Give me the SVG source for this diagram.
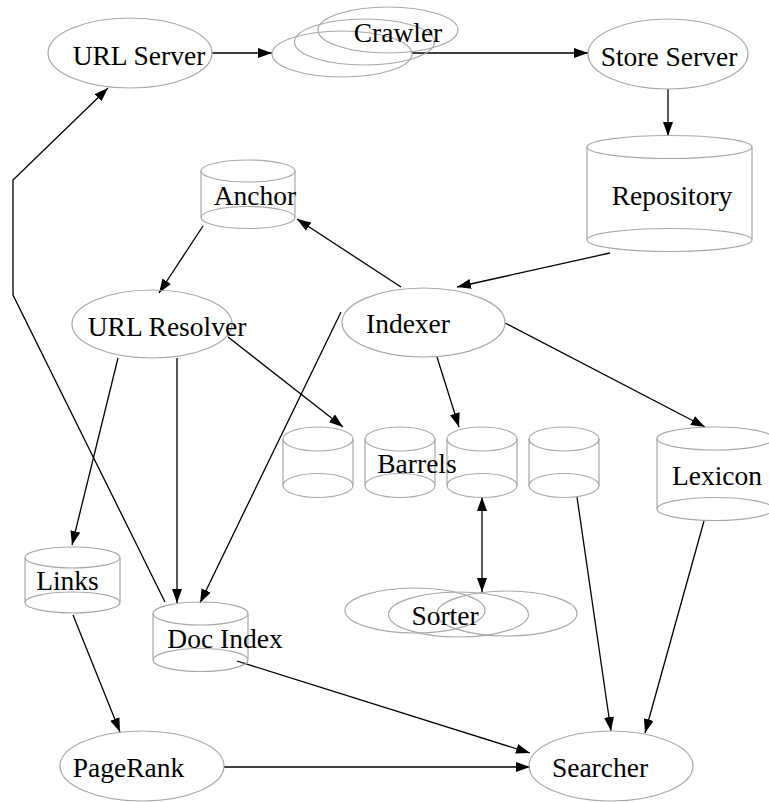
<svg xmlns="http://www.w3.org/2000/svg" width="769" height="802" viewBox="0 0 769 802">
<style>
.n{fill:none;stroke:#a8a8a8;stroke-width:1.2}
.t{font-family:"Liberation Serif","Times New Roman",serif;font-size:27.5px;fill:#000;text-anchor:middle}
.e{fill:none;stroke:#000;stroke-width:1.3;marker-end:url(#ah)}
</style>
<defs>
<marker id="ah" markerUnits="userSpaceOnUse" markerWidth="15" markerHeight="11" refX="14" refY="5" orient="auto-start-reverse">
<path d="M0,0 L14,5 L0,10 z" fill="#000"/>
</marker>
</defs>
<rect width="769" height="802" fill="#fff"/>
<g id="connectors">
<path class="e" d="M212,53 L272,53"/>
<path class="e" d="M412,53 L588,53"/>
<path class="e" d="M668,89 L668,136"/>
<path class="e" d="M610,253 L457,287"/>
<path class="e" d="M401,287 L297,219"/>
<path class="e" d="M203,226 L159,293"/>
<path class="e" d="M228,337 L343,427"/>
<path class="e" d="M118,358 L72,545"/>
<path class="e" d="M177,358 L177,603"/>
<path class="e" d="M341,312 L200,603"/>
<path class="e" d="M437,357 L459,427"/>
<path class="e" d="M505,323 L705,427"/>
<path class="e" d="M482,497 L482,592" marker-start="url(#ah)"/>
<path class="e" d="M577,497 L611,731"/>
<path class="e" d="M704,521 L645,733"/>
<path class="e" d="M165,602 L13,295 L13,180 L108,88"/>
<path class="e" d="M73,615 L120,732"/>
<path class="e" d="M237,661 L530,753"/>
<path class="e" d="M224,767 L530,767"/>
</g>
<g id="url-server">
<ellipse class="n" cx="130" cy="53" rx="82" ry="35"/>
<text class="t" x="139" y="65">URL Server</text>
</g>
<g id="crawler">
<ellipse class="n" cx="342" cy="54" rx="70" ry="23"/>
<ellipse class="n" cx="364.5" cy="42" rx="70" ry="23"/>
<ellipse class="n" cx="388" cy="30" rx="70" ry="23"/>
<text class="t" x="398" y="42">Crawler</text>
</g>
<g id="store-server">
<ellipse class="n" cx="668" cy="54" rx="80" ry="35"/>
<text class="t" x="669" y="66">Store Server</text>
</g>
<g id="repository">
<path class="n" d="M587,147 L587,240 M752,147 L752,240"/>
<ellipse class="n" cx="669.5" cy="147" rx="82.5" ry="11.5"/>
<ellipse class="n" cx="669.5" cy="240" rx="82.5" ry="11.5"/>
<text class="t" x="672" y="205">Repository</text>
</g>
<g id="anchor">
<path class="n" d="M201,171 L201,217.5 M295,171 L295,217.5"/>
<ellipse class="n" cx="248" cy="171" rx="47" ry="11"/>
<ellipse class="n" cx="248" cy="217.5" rx="47" ry="11"/>
<text class="t" x="255" y="205">Anchor</text>
</g>
<g id="url-resolver">
<ellipse class="n" cx="152" cy="324" rx="80" ry="34"/>
<text class="t" x="167" y="336">URL Resolver</text>
</g>
<g id="indexer">
<ellipse class="n" cx="423.5" cy="322.5" rx="81.5" ry="34.5"/>
<text class="t" x="408" y="333">Indexer</text>
</g>
<g id="barrels">
<path class="n" d="M283,439 L283,485.5 M353,439 L353,485.5 M365,439 L365,485.5 M435,439 L435,485.5 M447,439 L447,485.5 M517,439 L517,485.5 M529,439 L529,485.5 M599,439 L599,485.5"/>
<ellipse class="n" cx="318" cy="439" rx="35" ry="12"/>
<ellipse class="n" cx="318" cy="485.5" rx="35" ry="12"/>
<ellipse class="n" cx="400" cy="439" rx="35" ry="12"/>
<ellipse class="n" cx="400" cy="485.5" rx="35" ry="12"/>
<ellipse class="n" cx="482" cy="439" rx="35" ry="12"/>
<ellipse class="n" cx="482" cy="485.5" rx="35" ry="12"/>
<ellipse class="n" cx="564" cy="439" rx="35" ry="12"/>
<ellipse class="n" cx="564" cy="485.5" rx="35" ry="12"/>
<text class="t" x="417" y="473">Barrels</text>
</g>
<g id="lexicon">
<path class="n" d="M657,438.5 L657,509 M773,438.5 L773,509"/>
<ellipse class="n" cx="715" cy="438.5" rx="58" ry="11.5"/>
<ellipse class="n" cx="715" cy="509" rx="58" ry="11.5"/>
<text class="t" x="717" y="485">Lexicon</text>
</g>
<g id="links">
<path class="n" d="M25,557.5 L25,602.5 M120,557.5 L120,602.5"/>
<ellipse class="n" cx="72.5" cy="557.5" rx="47.5" ry="10.5"/>
<ellipse class="n" cx="72.5" cy="602.5" rx="47.5" ry="10.5"/>
<text class="t" x="67.5" y="590">Links</text>
</g>
<g id="doc-index">
<path class="n" d="M153,613.5 L153,660 M248,613.5 L248,660"/>
<ellipse class="n" cx="200.5" cy="613.5" rx="47.5" ry="11.5"/>
<ellipse class="n" cx="200.5" cy="660" rx="47.5" ry="11.5"/>
<text class="t" x="225" y="648">Doc Index</text>
</g>
<g id="sorter">
<ellipse class="n" cx="415" cy="610.5" rx="70" ry="22.5"/>
<ellipse class="n" cx="458.5" cy="614.5" rx="70" ry="22.5"/>
<ellipse class="n" cx="507" cy="613.5" rx="70" ry="22.5"/>
<text class="t" x="445" y="625">Sorter</text>
</g>
<g id="pagerank">
<ellipse class="n" cx="142" cy="766" rx="82" ry="35"/>
<text class="t" x="128.5" y="777">PageRank</text>
</g>
<g id="searcher">
<ellipse class="n" cx="611" cy="766" rx="82" ry="35"/>
<text class="t" x="600" y="777">Searcher</text>
</g>
</svg>
